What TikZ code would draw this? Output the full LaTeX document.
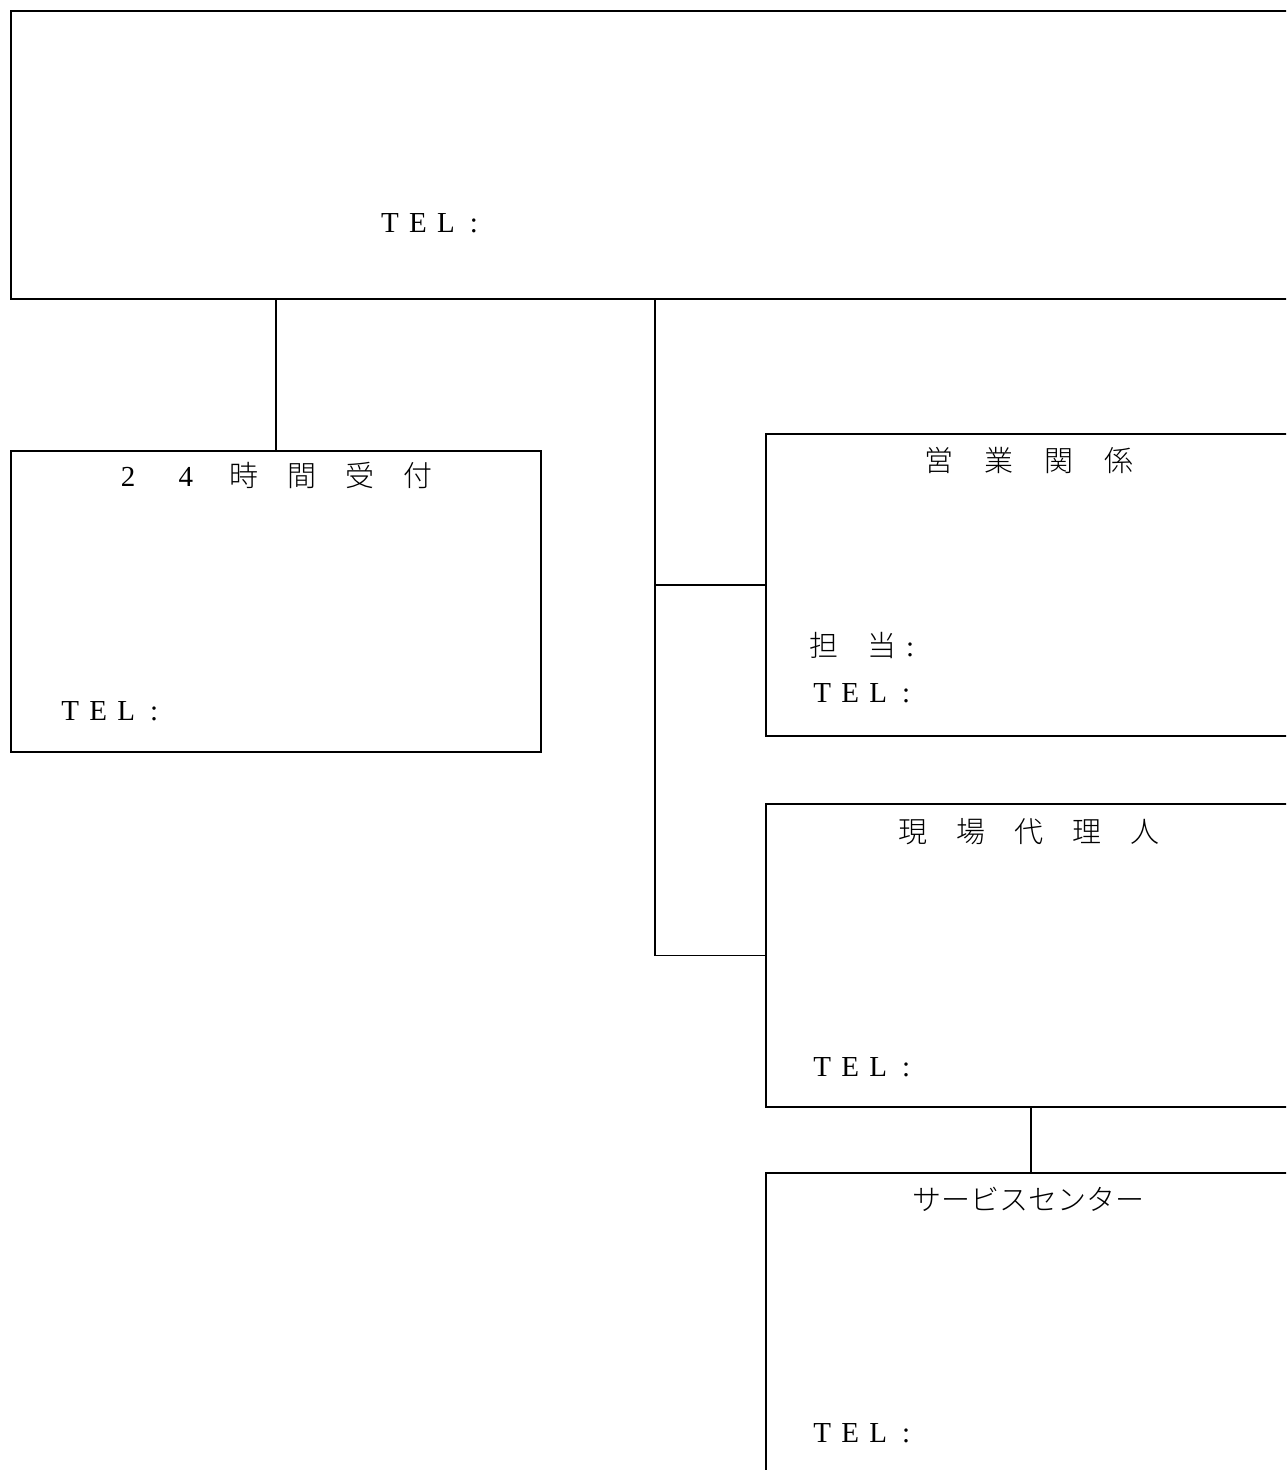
\documentclass[tikz,border=0pt]{standalone}
\usepackage{fontspec}
\setmainfont{Liberation Serif}
\newfontfamily\cjk{Noto Sans CJK JP Light}
\newcommand{\cb}[1]{\makebox[28pt]{#1}}
\begin{document}
\begin{tikzpicture}[x=1pt,y=-1pt,
  box/.style={draw,line width=1.8pt,rectangle,inner sep=0pt,anchor=north west},
  conn/.style={line width=1.8pt},
  txt/.style={inner sep=0pt,font=\fontsize{29pt}{34pt}\selectfont},
  jtxt/.style={inner sep=0pt,font=\fontsize{29pt}{34pt}\selectfont\cjk}]
\useasboundingbox (0,0) rectangle (1286,1470);
\clip (0,0) rectangle (1286,1470);
% boxes
\node[box,minimum width=1290pt,minimum height=288pt] (top) at (10,10) {};
\node[box,minimum width=530pt,minimum height=301pt] (left) at (10,450) {};
\node[box,minimum width=530pt,minimum height=302pt] (eigyo) at (765,433) {};
\node[box,minimum width=530pt,minimum height=303pt] (genba) at (765,803) {};
\node[box,minimum width=530pt,minimum height=340pt] (service) at (765,1172) {};
% connectors
\draw[conn] (left.north |- top.south) -- (left.north);
\coordinate (trunk) at (655,298);
\draw[conn] (trunk) |- (genba.west);
\draw[conn] (eigyo.west -| trunk) -- (eigyo.west);
\draw[conn] (genba.south) -- (service.north);
% texts
\node[txt,anchor=base west] (telTop) at (375.75,232) {\cb{T}\cb{E}\cb{L}\cb{:}};
\node[jtxt,anchor=base] (tLeft) at (273,486) {\cb{\normalfont 2}\hspace{30pt}\cb{\normalfont 4}\hspace{30pt}\cb{時}\hspace{30pt}\cb{間}\hspace{30pt}\cb{受}\hspace{30pt}\cb{付}};
\node[txt,anchor=base west] (telLeft) at (56,720) {\cb{T}\cb{E}\cb{L}\cb{:}};
\node[jtxt,anchor=base] (tEigyo) at (1029,471) {\cb{営}\hspace{32pt}\cb{業}\hspace{32pt}\cb{関}\hspace{32pt}\cb{係}};
\node[jtxt,anchor=base west] (tanto) at (810,656) {\cb{担}\hspace{30pt}\cb{当}\cb{\normalfont :}};
\node[txt,anchor=base west] (telEigyo) at (808,702) {\cb{T}\cb{E}\cb{L}\cb{:}};
\node[jtxt,anchor=base] (tGenba) at (1029,842) {\cb{現}\hspace{30pt}\cb{場}\hspace{30pt}\cb{代}\hspace{30pt}\cb{理}\hspace{30pt}\cb{人}};
\node[txt,anchor=base west] (telGenba) at (808,1076) {\cb{T}\cb{E}\cb{L}\cb{:}};
\node[jtxt,anchor=base] (tService) at (1028,1210) {サービスセンター};
\node[txt,anchor=base west] (telService) at (808,1442) {\cb{T}\cb{E}\cb{L}\cb{:}};
\end{tikzpicture}
\end{document}
